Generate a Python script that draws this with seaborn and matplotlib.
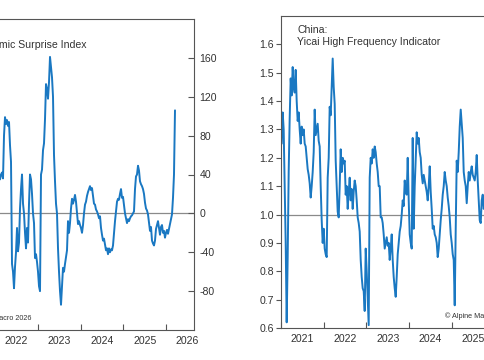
import numpy as np
import matplotlib
matplotlib.use("Agg")
import matplotlib.pyplot as plt
import seaborn as sns

# ---------------- data ----------------
# China: Economic Surprise Index, evenly sampled between these decimal years
esi_start, esi_end = 2022.040, 2026.208
esi_values = [
    38, 40, 36, 35, 40, 42, 36, 80, 99, 92, 96, 90, 94, 70, 53, -52, -60, -77, -55, -40,
    -15, -39, -30, 5, 25, 40, 10, 0, -20, -36, -15, -30, 10, 40, 35, 20, 0, -10, -46, -42,
    -50, -60, -75, -80, 40, 45, 65, 72, 97, 133, 128, 118, 135, 161, 150, 140, 120, 60, 33, 10,
    0, -36, -60, -80, -94, -75, -56, -60, -52, -45, -38, -8, -20, -10, 5, 15, 10, 14, 19, 12,
    0, -11, -8, -12, -15, -20, -12, 0, 9, 12, 18, 22, 25, 28, 24, 26, 18, 10, 9, 4,
    2, -1, -5, -3, -15, -22, -28, -26, -32, -38, -36, -42, -36, -40, -37, -38, -33, -20, -8, 2,
    12, 15, 14, 20, 25, 16, 17, 8, 0, -5, -10, -6, -8, -5, -3, -2, 0, 2, 25, 38,
    40, 49, 44, 33, 30, 28, 25, 20, 11, 5, 3, -1, -10, -18, -14, -28, -31, -33, -28, -16,
    -12, -8, -15, -22, -14, -12, -20, -18, -25, -20, -17, -21, -16, -11, -6, -1, 16, 40, 106,
]

# China: Yicai High Frequency Indicator, evenly sampled between these decimal years
yicai_start, yicai_end = 2021.016, 2025.841
yicai_values = [
    1.25, 1.36, 1.30, 1.11, 0.90, 0.62, 0.85, 1.15, 1.34, 1.48, 1.42, 1.52, 1.45, 1.43, 1.51, 1.40,
    1.33, 1.36, 1.30, 1.25, 1.31, 1.28, 1.30, 1.25, 1.24, 1.20, 1.16, 1.14, 1.11, 1.06, 1.10, 1.15,
    1.22, 1.37, 1.28, 1.30, 1.32, 1.26, 1.24, 1.10, 0.98, 0.90, 0.95, 0.88, 0.86, 0.85, 1.13, 1.20,
    1.38, 1.35, 1.45, 1.55, 1.45, 1.39, 1.19, 1.10, 1.01, 0.99, 1.10, 1.23, 1.15, 1.20, 1.18, 1.19,
    1.07, 1.10, 1.02, 1.08, 1.13, 1.05, 1.09, 1.02, 1.08, 1.12, 1.10, 1.05, 0.99, 0.97, 0.94, 0.84,
    0.78, 0.74, 0.73, 0.66, 0.88, 0.80, 0.70, 0.61, 1.13, 1.20, 1.18, 1.23, 1.20, 1.24, 1.22, 1.18,
    1.15, 1.10, 1.10, 0.99, 0.99, 0.97, 0.93, 0.88, 0.90, 0.92, 0.89, 0.90, 0.84, 0.88, 0.93, 0.84,
    0.78, 0.74, 0.71, 0.78, 0.86, 0.90, 0.94, 0.96, 1.00, 1.05, 1.03, 1.12, 1.08, 1.07, 1.20, 1.05,
    0.93, 0.90, 0.88, 1.27, 0.95, 1.10, 1.20, 1.29, 1.25, 1.27, 1.22, 1.20, 1.14, 1.11, 1.14, 1.12,
    1.10, 1.08, 1.05, 1.10, 1.17, 1.08, 1.02, 0.95, 0.96, 0.93, 0.92, 0.90, 0.85, 0.88, 0.93, 0.98,
    1.02, 1.07, 1.10, 1.15, 1.12, 1.10, 1.06, 1.03, 0.99, 0.93, 0.90, 0.86, 0.84, 0.68, 0.95, 1.19,
    1.15, 1.22, 1.31, 1.37, 1.32, 1.27, 1.15, 1.12, 1.10, 1.04, 1.10, 1.15, 1.12, 1.15, 1.17, 1.14,
    1.13, 1.12, 1.15, 1.21, 1.12, 1.05, 0.98, 0.97, 1.05, 1.07, 1.02, 1.03, 1.05, 1.06, 1.04,
]

esi_year_labels = ["2022", "2023", "2024", "2025", "2026"]
yicai_year_labels = ["2021", "2022", "2023", "2024", "2025"]
esi_yticks = [-80, -40, 0, 40, 80, 120, 160]
yicai_yticks = [0.6, 0.7, 0.8, 0.9, 1.0, 1.1, 1.2, 1.3, 1.4, 1.5, 1.6]

left_title = "Economic Surprise Index"
right_title = "China:\nYicai High Frequency Indicator"
credit = "\u00a9 Alpine Macro 2026"

# ---------------- style ----------------
sns.set_style("ticks")
plt.rcParams["font.family"] = ["Liberation Sans", "DejaVu Sans"]
plt.rcParams["axes.edgecolor"] = "#555555"
plt.rcParams["axes.linewidth"] = 0.8

LINE = "#1a78c2"
TXT = "#333333"
FS = 7.6

W, H = 485, 360
fig = plt.figure(figsize=(W / 100, H / 100), dpi=100)
fig.patch.set_facecolor("white")


def box(l, t, r, b):
    return [l / W, 1 - b / H, (r - l) / W, (b - t) / H]


ax1 = fig.add_axes(box(-47.4, 19, 194, 330))
ax2 = fig.add_axes(box(281, 16, 522.4, 328))

esi_x = np.linspace(esi_start, esi_end, len(esi_values))
yicai_x = np.linspace(yicai_start, yicai_end, len(yicai_values))

sns.lineplot(x=esi_x, y=esi_values, ax=ax1, color=LINE, linewidth=1.4, sort=False)
sns.lineplot(x=yicai_x, y=yicai_values, ax=ax2, color=LINE, linewidth=1.4, sort=False)

ax1.axhline(0, color="#8a8a8a", linewidth=0.9, zorder=0)
ax2.axhline(1.0, color="#8a8a8a", linewidth=0.9, zorder=0)

for ax, labels in ((ax1, esi_year_labels), (ax2, yicai_year_labels)):
    yrs = [int(y) for y in labels]
    ax.set_xticks([2021, 2022, 2023, 2024, 2025, 2026])
    ax.set_xticklabels([])
    ax.set_xticks([y + 0.5 for y in yrs], minor=True)
    ax.set_xticklabels(labels, minor=True)
    ax.set_xlim(2021.0, 2026.653)
    ax.tick_params(axis="x", which="major", direction="in", length=4.5,
                   width=0.8, color="#555555")
    ax.tick_params(axis="x", which="minor", length=0, pad=4,
                   labelsize=FS, labelcolor=TXT)
    ax.set_xlabel("")
    ax.set_ylabel("")
    for s in ax.spines.values():
        s.set_visible(True)
        s.set_color("#555555")
        s.set_linewidth(0.8)

ax1.yaxis.tick_right()
ax1.set_yticks(esi_yticks)
ax1.set_yticklabels([str(v) for v in esi_yticks])
ax1.set_ylim(-120, 200)
ax1.tick_params(axis="y", direction="in", length=4.5, width=0.8, color="#555555",
                pad=4, labelsize=FS, labelcolor=TXT)

ax2.set_yticks(yicai_yticks)
ax2.set_yticklabels([f"{v:.1f}" for v in yicai_yticks])
ax2.set_ylim(0.6, 1.7)
ax2.tick_params(axis="y", direction="out", length=3.5, width=0.8, color="#555555",
                pad=1.5, labelsize=FS, labelcolor=TXT)

fig.text(-31 / W, 1 - 40 / H, left_title, ha="left", va="top", fontsize=FS, color=TXT)
fig.text(297 / W, 1 - 25 / H, right_title, ha="left", va="top", fontsize=FS, color=TXT)
fig.text(32 / W, 1 - 318 / H, credit, ha="right", va="center", fontsize=5.2, color=TXT)
fig.text(445 / W, 1 - 316 / H, credit, ha="left", va="center", fontsize=5.2, color=TXT)

fig.savefig("out.png", dpi=100, facecolor="white")
